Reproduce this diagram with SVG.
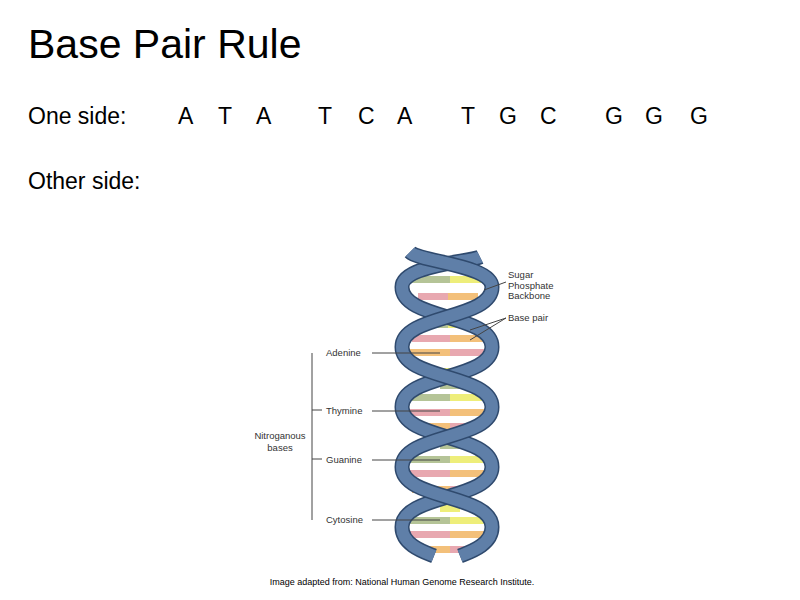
<svg xmlns="http://www.w3.org/2000/svg" width="800" height="600" viewBox="0 0 800 600">
<style>
text{font-family:"Liberation Sans",Arial,sans-serif;fill:#000}
.big{font-size:23px}
.sm{font-size:9.5px;fill:#333}
.strand{fill:none;stroke:#2f4a6e;stroke-width:15;stroke-linecap:butt}
.strandi{fill:none;stroke:#5f7fa8;stroke-width:12}
.ln{stroke:#444;stroke-width:1}
</style>
<rect width="800" height="600" fill="#fff"/>
<text x="28" y="58" font-size="41">Base Pair Rule</text>
<text class="big" x="28" y="124">One side:</text>
<g class="big">
<text class="big" x="178" y="124">A</text><text class="big" x="218" y="124">T</text><text class="big" x="256" y="124">A</text>
<text class="big" x="318" y="124">T</text><text class="big" x="358" y="124">C</text><text class="big" x="397" y="124">A</text>
<text class="big" x="461" y="124">T</text><text class="big" x="499" y="124">G</text><text class="big" x="540" y="124">C</text>
<text class="big" x="605" y="124">G</text><text class="big" x="645" y="124">G</text><text class="big" x="690" y="124">G</text>
</g>
<text class="big" x="28" y="189">Other side:</text>
<g id="bases">
<rect x="412" y="276" width="38" height="7" fill="#b5c497"/><rect x="450" y="276" width="40" height="7" fill="#eeee7a"/>
<rect x="418" y="293" width="30" height="7" fill="#e8a8b0"/><rect x="448" y="293" width="30" height="7" fill="#f3c07a"/>
<rect x="428" y="321" width="20" height="7" fill="#b5c497"/><rect x="448" y="321" width="22" height="7" fill="#eeee7a"/>
<rect x="412" y="335" width="38" height="7" fill="#e8a8b0"/><rect x="450" y="335" width="40" height="7" fill="#f3c07a"/>
<rect x="405" y="349" width="45" height="7" fill="#f3c07a"/><rect x="450" y="349" width="40" height="7" fill="#e8a8b0"/>
<rect x="428" y="368" width="40" height="7" fill="#eeee7a"/>
<rect x="440" y="382" width="20" height="7" fill="#b5c497"/>
<rect x="410" y="394" width="40" height="7" fill="#b5c497"/><rect x="450" y="394" width="38" height="7" fill="#eeee7a"/>
<rect x="405" y="409" width="45" height="7" fill="#e8a8b0"/><rect x="450" y="409" width="40" height="7" fill="#f3c07a"/>
<rect x="412" y="423" width="38" height="7" fill="#f3c07a"/><rect x="450" y="423" width="30" height="7" fill="#e8a8b0"/>
<rect x="440" y="442" width="20" height="7" fill="#b5c497"/>
<rect x="410" y="456" width="40" height="7" fill="#b5c497"/><rect x="450" y="456" width="38" height="7" fill="#eeee7a"/>
<rect x="405" y="470" width="45" height="7" fill="#e8a8b0"/><rect x="450" y="470" width="40" height="7" fill="#f3c07a"/>
<rect x="412" y="486" width="38" height="7" fill="#f3c07a"/><rect x="450" y="486" width="30" height="7" fill="#e8a8b0"/>
<rect x="440" y="505" width="20" height="7" fill="#eeee7a"/>
<rect x="410" y="517" width="40" height="7" fill="#b5c497"/><rect x="450" y="517" width="38" height="7" fill="#eeee7a"/>
<rect x="405" y="531" width="45" height="7" fill="#e8a8b0"/><rect x="450" y="531" width="40" height="7" fill="#f3c07a"/>
<rect x="412" y="546" width="38" height="7" fill="#f3c07a"/><rect x="450" y="546" width="30" height="7" fill="#e8a8b0"/>
</g>
<g id="helix">
<path class="strand" d="M480,257 C470,262 402,265 402,287 C402,320 492,314 492,347 C492,380 402,374 402,407 C402,440 492,434 492,467 C492,500 402,494 402,527 C402,545 424,552 434,556"/>
<path class="strandi" d="M480,257 C470,262 402,265 402,287 C402,320 492,314 492,347 C492,380 402,374 402,407 C402,440 492,434 492,467 C492,500 402,494 402,527 C402,545 424,552 434,556"/>
<path class="strand" d="M410,252 C420,262 492,265 492,287 C492,320 402,314 402,347 C402,380 492,374 492,407 C492,440 402,434 402,467 C402,500 492,494 492,527 C492,545 470,552 460,556"/>
<path class="strandi" d="M410,252 C420,262 492,265 492,287 C492,320 402,314 402,347 C402,380 492,374 492,407 C492,440 402,434 402,467 C402,500 492,494 492,527 C492,545 470,552 460,556"/>
</g>
<g id="labels">
<text class="sm" x="508" y="278">Sugar</text>
<text class="sm" x="508" y="289">Phosphate</text>
<text class="sm" x="508" y="299">Backbone</text>
<line class="ln" x1="506" y1="282" x2="484" y2="290"/>
<text class="sm" x="508" y="321">Base pair</text>
<line class="ln" x1="506" y1="318" x2="470" y2="330"/>
<line class="ln" x1="506" y1="318" x2="470" y2="340"/>
<text class="sm" x="326" y="356">Adenine</text><line class="ln" x1="372" y1="353" x2="440" y2="353"/>
<text class="sm" x="326" y="414">Thymine</text><line class="ln" x1="372" y1="411" x2="440" y2="411"/>
<text class="sm" x="326" y="463">Guanine</text><line class="ln" x1="372" y1="460" x2="440" y2="460"/>
<text class="sm" x="326" y="523">Cytosine</text><line class="ln" x1="372" y1="520" x2="440" y2="520"/>
<line class="ln" x1="312" y1="353" x2="312" y2="520"/>
<line class="ln" x1="312" y1="410" x2="322" y2="410"/>
<line class="ln" x1="312" y1="459" x2="322" y2="459"/>
<text class="sm" x="280" y="439" text-anchor="middle">Nitroganous</text>
<text class="sm" x="280" y="451" text-anchor="middle">bases</text>
<text x="402" y="585" font-size="9" text-anchor="middle" fill="#222">Image adapted from: National Human Genome Research Institute.</text>
</g>
</svg>
